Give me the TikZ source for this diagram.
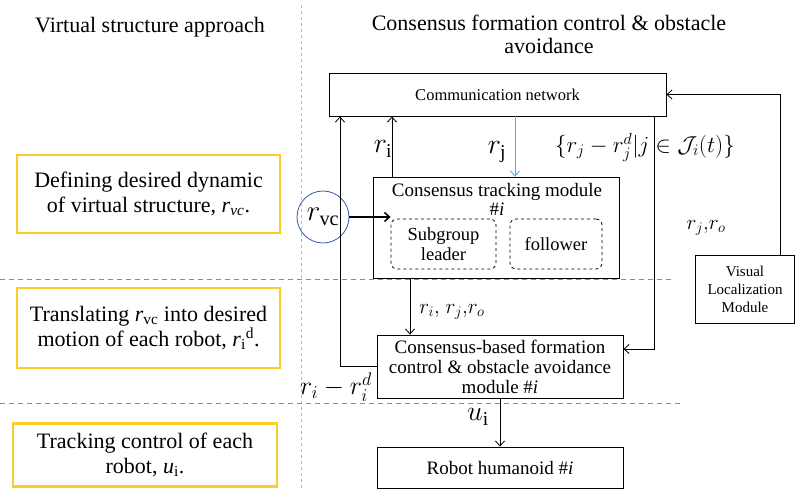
\RequirePackage{fix-cm}
\documentclass[tikz,border=0pt]{standalone}
\usepackage{fontspec}
\setmainfont{Liberation Serif}
\usetikzlibrary{arrows.meta}
\definecolor{ybord}{RGB}{250,205,40}
\definecolor{lblue}{RGB}{95,150,200}
\definecolor{vblue}{RGB}{150,195,230}
\definecolor{jblue}{RGB}{80,170,225}
\definecolor{cblue}{RGB}{50,90,170}
\newcommand{\fs}[1]{\fontsize{#1}{#1}\selectfont}
\begin{document}
\begin{tikzpicture}[x=1pt,y=-1pt,
  blk/.style={draw, line width=0.9pt, inner sep=0pt, align=center},
  ybox/.style={draw=ybord, line width=2.8pt, inner sep=0pt, align=center, font=\fs{22}},
  dbox/.style={draw, dashed, rounded corners=6pt, line width=0.8pt, inner sep=0pt, align=center, font=\fs{18.5}},
  arr/.style={-{Straight Barb[length=5pt,width=9pt]}, line width=0.8pt},
  sep/.style={draw=lblue, dash pattern=on 5pt off 4pt, line width=0.9pt},
  lbl/.style={inner sep=0pt}
]
\useasboundingbox (0,0) rectangle (795,490);
\fill[white] (0,0) rectangle (795,490);

% separators
\draw[draw=vblue, dash pattern=on 3pt off 3pt, line width=0.9pt] (301,5) -- (301,490);
\draw[sep] (0,279) -- (675,279);
\draw[sep] (0,403) -- (680,403);

% titles
\node[lbl, font=\fs{22}] (t1) at (150,27) {Virtual structure approach};
\node[lbl, font=\fs{22}, align=center] (t2) at (549,34) {Consensus formation control \& obstacle\\[1pt]avoidance};

% left yellow boxes
\node[ybox, minimum width=263pt, minimum height=78pt] (y1) at (148.5,194)
  {Defining desired dynamic\\[3pt]of virtual structure, \textit{r}\textsubscript{\textit{vc}}.};
\node[ybox, minimum width=263pt, minimum height=80pt] (y2) at (148.5,328)
  {Translating \textit{r}\textsubscript{vc} into desired\\[1pt]motion of each robot, \textit{r}\textsubscript{i}\textsuperscript{d}.};
\node[ybox, minimum width=264pt, minimum height=63pt] (y3) at (145,455)
  {Tracking control of each\\[3pt]robot, \textit{u}\textsubscript{i}.};

% blocks
\node[blk, minimum width=337pt, minimum height=43pt, font=\fs{16.5}] (comm) at (497.5,94.5) {Communication network};
\node[blk, minimum width=246pt, minimum height=101pt] (ctm) at (496,227.5) {};
\node[lbl, font=\fs{19}, align=center] (ctmt) at (497,199) {Consensus tracking module\\[0pt]\#\textit{i}};
\node[dbox, minimum width=105pt, minimum height=50pt] (sub) at (443.5,244) {Subgroup\\[1pt]leader};
\node[dbox, minimum width=92pt, minimum height=50pt] (fol) at (556,244) {follower};
\node[blk, minimum width=246pt, minimum height=63pt, font=\fs{19}] (cbf) at (500,366.5)
  {Consensus-based formation\\[1pt]control \& obstacle avoidance\\[1pt]module \#\textit{i}};
\node[blk, minimum width=246pt, minimum height=41pt, font=\fs{19}] (rob) at (500,467.5) {Robot humanoid \#\textit{i}};
\node[blk, minimum width=99pt, minimum height=68pt, font=\fs{15}] (vis) at (745,289) {Visual\\[3pt]Localization\\[3pt]Module};
\node[draw=cblue, circle, line width=0.8pt, minimum size=52pt, inner sep=0pt, font=\fs{29}] (rvc) at (323,217) {$r_{\mathrm{vc}}$};

% helper coordinates
\coordinate (L1) at (340,0);
\coordinate (L2) at (392,0);
\coordinate (L3) at (515,0);
\coordinate (L5) at (410,0);
\coordinate (K) at (654,349);
\coordinate (R) at (780,0);

% connectors
\draw[arr] (cbf.west) -| (L1 |- comm.south);
\draw[arr] (L2 |- ctm.north) -- (L2 |- comm.south);
\draw[arr, draw=jblue] (L3 |- comm.south) -- (L3 |- ctm.north);
\draw[arr] (K |- comm.south) -- (K) -- (K -| cbf.east);
\draw[arr] (R |- vis.north) |- (comm.east);
\draw[-{Straight Barb[length=5pt,width=9pt]}, line width=1.5pt] (rvc.east) -- (rvc -| sub.west);
\draw[arr] (L5 |- ctm.south) -- (L5 |- cbf.north);
\draw[arr] (cbf.south) -- (rob.north);

% labels
\node[lbl, font=\fs{28}] (lri) at (383,149) {$r_{\mathrm{i}}$};
\node[lbl, font=\fs{28}] (lrj) at (497,152) {$r_{\mathrm{j}}$};
\node[lbl, font=\fs{23}] (lset) at (645,147) {$\{r_j - r_j^d | j \in \mathcal{J}_i(t)\}$};
\node[lbl, font=\fs{21}] (lrjo) at (706,228) {$r_j{,}r_o$};
\node[lbl, font=\fs{21}] (lrijo) at (452,312) {$r_i{,}\;r_j{,}r_o$};
\node[lbl, font=\fs{26}] (lrd) at (336,387) {$r_i - r_i^d$};
\node[lbl, font=\fs{28}] (lui) at (478,417) {$u_{\mathrm{i}}$};
\end{tikzpicture}
\end{document}
